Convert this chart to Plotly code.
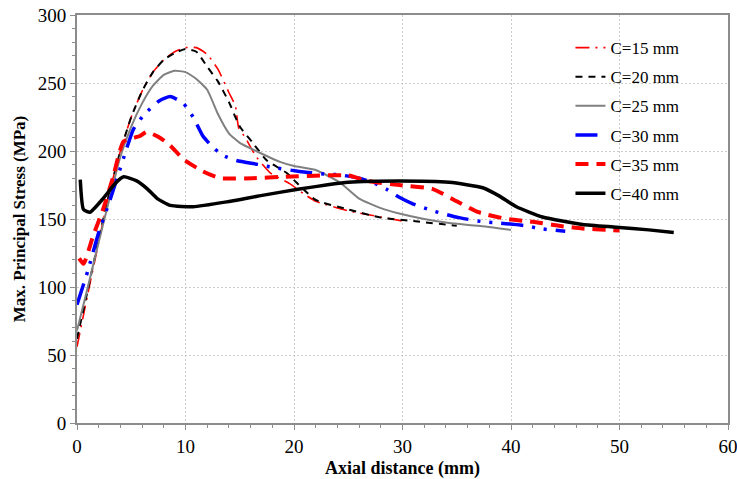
import plotly.graph_objects as go

# ---- data ----
x15 = [0, 1, 2, 3, 4, 5, 6, 7, 8, 9, 10, 11, 12, 13, 14, 14.6, 14.9, 15.5, 16.5, 17.8, 19.6, 21, 22, 25, 28, 30]
y15 = [56, 95, 133, 170, 200, 225, 244, 258, 267, 273, 276, 276, 271, 260, 243, 233, 217, 210, 196, 184, 176, 168, 163, 156, 151.5, 148.5]

x20 = [0, 1, 2, 3, 4, 5, 6, 7, 8, 9, 10, 11, 12, 13, 14, 15, 16.2, 17.5, 19.3, 20.2, 22, 25, 28, 31, 35]
y20 = [62, 98, 135, 170, 200, 225, 244, 258, 267, 272, 275, 273, 262, 251, 236, 218, 206, 193, 184, 177, 164, 157, 151, 148.5, 145]

x25 = [0, 1, 2, 3, 4, 5, 6, 7, 8, 9, 10, 11, 12, 13, 14, 15, 16.5, 18.7, 20, 22, 24.2, 26, 28, 29.7, 32, 34.3, 37, 40]
y25 = [68, 100, 133, 165, 196, 218, 235, 248, 256, 259, 258, 253, 245, 227, 213, 206, 200, 192, 189, 186, 177, 165, 158, 154, 150, 147, 145, 142]

x30 = [0, 1, 2, 3, 3.7, 4.5, 5.2, 6.1, 7.6, 8.6, 9.8, 10.7, 11.6, 12.5, 13.4, 14.7, 16.8, 18, 20.5, 23, 24.2, 26, 27.2, 28.5, 29.7, 31, 32.8, 35.2, 37.4, 39, 41.4, 42.6, 45]
y30 = [87, 112, 140, 163, 180, 200, 216, 226, 237, 240, 235, 225, 211, 203, 197, 193, 190, 188, 185, 183, 182.5, 180, 177, 172, 166, 161, 156, 151, 148, 147, 145, 143, 141]

x35 = [0.2, 0.6, 1.5, 2.4, 3.3, 4.3, 5.8, 6.4, 7.6, 8.6, 9.8, 11.6, 13.2, 16.2, 19, 25, 26.7, 29.7, 32.8, 35, 37, 39.6, 42, 44.4, 46.6, 49, 50]
y35 = [121, 117, 138, 157, 180, 207, 211, 214, 210, 204, 194, 185, 180, 180, 181, 182, 178, 175, 172, 163, 155, 150, 148, 145, 143, 142, 141.5]

x40 = [0.3, 0.6, 1.2, 2.4, 3.5, 4.3, 5.5, 6.5, 7.4, 8.6, 10.7, 13.8, 16.8, 20.5, 25, 29.7, 34.3, 37.4, 38.9, 40.5, 42.9, 46.6, 49.7, 52.7, 55]
y40 = [179, 157, 155, 165, 176, 181, 178, 172, 165, 160, 159, 162.6, 167, 172, 177, 178, 177, 173, 167, 159, 151.5, 146, 144, 142, 140]

names = ["C=15 mm", "C=20 mm", "C=25 mm", "C=30 mm", "C=35 mm", "C=40 mm"]
xs = [x15, x20, x25, x30, x35, x40]
ys = [y15, y20, y25, y30, y35, y40]

x_ticks = [0, 10, 20, 30, 40, 50, 60]
y_ticks = [0, 50, 100, 150, 200, 250, 300]

styles = [
    dict(color="#ff0000", width=1.6, dash="14px,6px,2px,6px"),
    dict(color="#000000", width=2, dash="7px,6px"),
    dict(color="#808080", width=2, dash="solid"),
    dict(color="#0000ff", width=3.5, dash="22px,9px,3px,9px,3px,9px"),
    dict(color="#ff0000", width=4, dash="13px,8px"),
    dict(color="#000000", width=3.5, dash="solid"),
]

FONT = "Liberation Serif, Times New Roman, serif"

fig = go.Figure()
for i, (n, x, y, st) in enumerate(zip(names, xs, ys, styles)):
    fig.add_trace(go.Scatter(
        x=x, y=y, name=n, mode="lines",
        line=dict(color=st["color"], width=st["width"], dash=st["dash"],
                  shape="spline", smoothing=0.5),
        legendgroup=f"g{i}",
    ))

axis_common = dict(
    showline=True, linecolor="#8c8c8c", linewidth=2, mirror=True,
    ticks="outside", ticklen=5, tickcolor="#8c8c8c", tickwidth=1,
    showgrid=True, gridcolor="#cccccc", gridwidth=1, griddash="2px,2px",
    zeroline=False, automargin=False, ticklabeloverflow="allow",
    tickfont=dict(family=FONT, size=19, color="#000000"),
)

fig.update_xaxes(
    range=[0, 60], tickvals=x_ticks,
    title=dict(text="<b>Axial distance (mm)</b>", font=dict(family=FONT, size=18, color="#000"), standoff=6),
    minor=dict(dtick=2, ticklen=3, tickcolor="#8c8c8c", ticks="outside", showgrid=False),
    **axis_common,
)
fig.update_yaxes(
    range=[0, 300], tickvals=y_ticks,
    title=dict(text="<b>Max. Principal Stress (MPa)</b>", font=dict(family=FONT, size=17, color="#000"), standoff=8),
    minor=dict(dtick=10, ticklen=3, tickcolor="#8c8c8c", ticks="outside", showgrid=False),
    **axis_common,
)

fig.update_layout(
    width=737, height=479,
    margin=dict(l=77, r=9, t=15, b=56),
    paper_bgcolor="white", plot_bgcolor="white",
    font=dict(family=FONT, color="#000"),
    legend=dict(
        x=0.758, y=0.963, xanchor="left", yanchor="top",
        bgcolor="rgba(255,255,255,0)", borderwidth=0,
        font=dict(family=FONT, size=17, color="#000"),
        traceorder="grouped", tracegroupgap=4,
    ),
)

fig.write_html("out.html")
